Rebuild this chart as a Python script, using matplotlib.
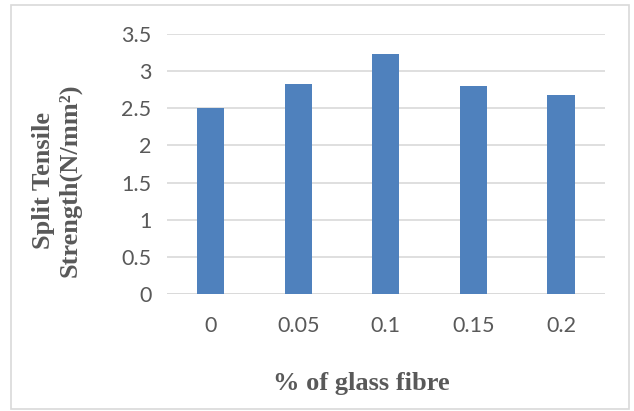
import matplotlib.pyplot as plt
from matplotlib.patches import Rectangle

# Data
fibre = ['0', '0.05', '0.1', '0.15', '0.2']
strength = [2.50, 2.83, 3.23, 2.80, 2.68]

fig = plt.figure(figsize=(6.34, 4.11), dpi=100)
ax = fig.add_axes([0.263, 0.285, 0.691, 0.632])

ax.bar(range(len(fibre)), strength, width=0.31, color='#4F81BD', zorder=3)

ax.set_xlim(-0.5, len(fibre) - 0.5)
ax.set_ylim(0, 3.5)
ax.set_yticks([0, 0.5, 1, 1.5, 2, 2.5, 3, 3.5])
ax.set_yticklabels(['0', '0.5', '1', '1.5', '2', '2.5', '3', '3.5'])
ax.set_xticks(range(len(fibre)))
ax.set_xticklabels(fibre)

for lbl in ax.get_xticklabels() + ax.get_yticklabels():
    lbl.set_fontfamily('Lato')
    lbl.set_fontsize(15.5)
    lbl.set_color('#595959')
ax.tick_params(axis='both', length=0)
ax.tick_params(axis='x', pad=16)
ax.tick_params(axis='y', pad=11)

ax.grid(True, axis='y', color='#D9D9D9', linewidth=1.2, zorder=0)
for s in ax.spines.values():
    s.set_visible(False)
ax.axhline(0, color='#D9D9D9', linewidth=1.2, zorder=2)

# Axis titles
fig.text(57 / 634, 1 - 180 / 411, 'Split Tensile\nStrength(N/mm²)', rotation=90,
         ha='center', va='center', fontfamily='Liberation Serif', fontweight='bold',
         fontsize=19, color='#595959', linespacing=1.2)
fig.text(361 / 634, 1 - 383 / 411, '% of glass fibre', ha='center', va='center',
         fontfamily='Liberation Serif', fontweight='bold', fontsize=19, color='#595959')

# Chart border
fig.patches.append(Rectangle((11 / 634, 1 - 409 / 411), 618 / 634, 404 / 411,
                             transform=fig.transFigure, fill=False,
                             edgecolor='#D9D9D9', linewidth=1.2))

fig.savefig('out.png', dpi=100)
